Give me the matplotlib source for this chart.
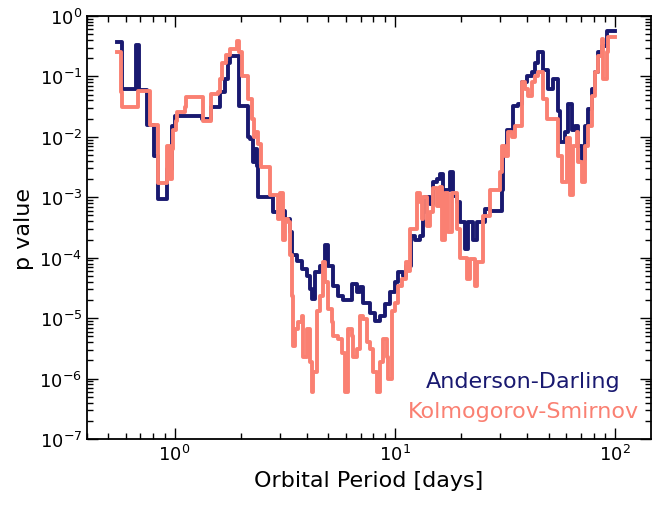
import matplotlib
matplotlib.use("Agg")
import matplotlib.pyplot as plt
from matplotlib.ticker import LogLocator, NullFormatter

# Anderson-Darling p values (step starts)
ad_period = [0.55, 0.58, 0.67, 0.69, 0.75, 0.81, 0.84, 0.92, 0.97, 1.0,
             1.33, 1.47, 1.60, 1.69, 1.74, 1.78, 1.97, 2.15, 2.21, 2.26,
             2.31, 2.36, 2.40, 2.79, 3.06, 3.16, 3.33, 3.40, 3.59, 3.78,
             3.98, 4.11, 4.20, 4.33, 4.56, 4.81, 4.96, 5.23, 5.51, 5.80,
             6.38, 6.72, 6.93, 7.16, 7.70, 8.11, 8.55, 9.01, 9.49, 10.0,
             10.3, 10.9, 11.3, 11.9, 12.3, 13.0, 13.4, 13.7, 14.4, 14.9,
             15.5, 16.0, 16.5, 17.8, 18.4, 19.1, 19.7, 20.8, 21.5, 22.6,
             23.6, 25.7, 27.0, 30.6, 31.0, 32.3, 34.4, 36.2, 37.8, 39.8,
             42.0, 43.3, 44.7, 47.1, 49.6, 52.3, 55.1, 56.2, 59.3, 61.1,
             63.8, 65.8, 67.9, 70.8, 73.1, 75.4, 78.6, 81.1, 83.7, 87.3,
             92.0, 100.0]
ad_p = [0.37, 0.062, 0.33, 0.060, 0.016, 0.0048, 0.00093, 0.0029, 0.015, 0.022,
        0.020, 0.031, 0.055, 0.091, 0.17, 0.22, 0.032, 0.0099, 0.0092, 0.0038,
        0.0063, 0.0033, 0.0010, 0.00057, 0.00059, 0.00044, 0.00027, 0.00011, 8.8e-5, 6.5e-5,
        5.0e-5, 3.0e-5, 2.1e-5, 5.8e-5, 7.3e-5, 1.6e-4, 7.3e-5, 3.4e-5, 2.3e-5, 2.0e-5,
        3.7e-5, 2.7e-5, 3.3e-5, 1.8e-5, 1.2e-5, 9.0e-6, 1.1e-5, 1.7e-5, 2.7e-5, 3.9e-5,
        5.8e-5, 5.0e-5, 7.3e-5, 2.3e-4, 2.0e-4, 2.3e-4, 5.7e-4, 1.0e-3, 7.7e-4, 1.8e-3,
        2.0e-3, 2.4e-3, 1.3e-3, 2.6e-3, 1.05e-3, 8.3e-4, 3.9e-4, 1.4e-4, 3.9e-4, 2.0e-4,
        3.9e-4, 6.4e-4, 6.0e-4, 1.3e-3, 6.3e-3, 0.013, 0.032, 0.035, 0.081, 0.10,
        0.12, 0.17, 0.25, 0.13, 0.062, 0.091, 0.027, 0.0082, 0.012, 0.035,
        0.013, 0.015, 0.0070, 0.0043, 0.015, 0.029, 0.062, 0.12, 0.25, 0.32,
        0.56, 0.56]

# Kolmogorov-Smirnov p values (step starts)
ks_period = [0.55, 0.57, 0.58, 0.68, 0.77, 0.84, 0.92, 0.95, 0.97, 0.98,
             1.02, 1.03, 1.11, 1.13, 1.34, 1.47, 1.57, 1.60, 1.65, 1.72,
             1.78, 1.93, 1.97, 2.02, 2.15, 2.24, 2.29, 2.33, 2.40, 2.48,
             2.70, 2.94, 3.0, 3.10, 3.16, 3.26, 3.33, 3.40, 3.44, 3.51,
             3.62, 3.78, 3.82, 3.98, 4.11, 4.20, 4.24, 4.42, 4.56, 4.71,
             4.81, 4.96, 5.17, 5.23, 5.51, 5.74, 5.93, 6.11, 6.38, 6.44,
             6.72, 6.93, 7.16, 7.46, 7.70, 7.94, 8.28, 8.55, 8.82, 9.20,
             9.29, 9.69, 10.0, 10.3, 10.8, 11.3, 11.5, 11.7, 12.6, 13.0,
             13.3, 13.4, 14.0, 14.4, 14.9, 15.5, 16.0, 16.4, 16.9, 17.4,
             18.2, 19.1, 19.7, 21.2, 21.9, 23.1, 23.6, 25.1, 27.0, 30.0,
             30.6, 31.6, 32.6, 34.0, 35.1, 37.8, 39.0, 40.2, 42.0, 43.3,
             44.7, 47.1, 49.1, 55.1, 57.4, 60.5, 62.4, 64.4, 67.2, 67.9,
             70.8, 73.1, 75.4, 78.6, 81.1, 83.7, 87.3, 88.2, 92.0, 92.9,
             100.0]
ks_p = [0.25, 0.055, 0.031, 0.057, 0.016, 0.0017, 0.0070, 0.0020, 0.0063, 0.013,
        0.018, 0.026, 0.031, 0.046, 0.018, 0.051, 0.055, 0.091, 0.17, 0.23,
        0.28, 0.39, 0.25, 0.10, 0.042, 0.020, 0.0099, 0.012, 0.0076, 0.0032,
        0.0011, 0.00044, 0.0012, 0.00020, 0.00044, 0.00039, 0.00011, 2.3e-5, 3.4e-6, 6.6e-6,
        8.6e-6, 1.1e-5, 2.3e-6, 6.6e-6, 1.9e-6, 6.0e-7, 1.3e-6, 1.3e-5, 2.3e-5, 8.5e-5,
        3.9e-5, 1.4e-5, 8.6e-6, 5.0e-6, 4.5e-6, 2.7e-6, 6.0e-7, 6.6e-6, 5.0e-6, 2.3e-6,
        3.1e-6, 1.1e-5, 9.6e-6, 4.0e-6, 3.1e-6, 1.3e-6, 6.0e-7, 1.9e-6, 4.5e-6, 2.3e-6,
        9.8e-7, 1.3e-5, 1.8e-5, 3.4e-5, 4.4e-5, 8.5e-5, 6.0e-5, 3.0e-4, 1.2e-3, 8.3e-4,
        4.4e-4, 1.0e-3, 3.3e-4, 5.7e-4, 1.4e-3, 7.1e-4, 1.5e-3, 2.0e-4, 1.2e-3, 2.7e-4,
        1.2e-3, 3.0e-4, 1.0e-4, 4.4e-5, 9.5e-5, 3.4e-5, 8.5e-5, 4.9e-4, 1.3e-3, 2.6e-3,
        7.0e-3, 4.8e-3, 0.012, 0.010, 0.015, 0.081, 0.062, 0.047, 0.081, 0.10,
        0.12, 0.042, 0.020, 0.0048, 0.0018, 0.0095, 0.0011, 0.0070, 0.012, 0.0038,
        0.0018, 0.0070, 0.015, 0.047, 0.12, 0.22, 0.42, 0.091, 0.25, 0.45,
        0.45]

plt.rcParams['font.family'] = ['DejaVu Sans']

fig = plt.figure(figsize=(6.52, 5.06), dpi=100)
ax = fig.add_axes([0.1334, 0.1304, 0.8651, 0.836])

ad_color = '#191970'
ks_color = '#fa8072'
ax.plot(ad_period, ad_p, drawstyle='steps-post', color=ad_color, lw=2.8)
ax.plot(ks_period, ks_p, drawstyle='steps-post', color=ks_color, lw=2.8)

ax.set_xscale('log')
ax.set_yscale('log')
ax.set_xlim(0.4, 146)
ax.set_ylim(1e-7, 1)
ax.yaxis.set_major_locator(LogLocator(base=10, numticks=20))
ax.yaxis.set_minor_locator(LogLocator(base=10, subs=range(2, 10), numticks=20))
ax.yaxis.set_minor_formatter(NullFormatter())

ax.tick_params(which='both', direction='in', top=True, right=True,
               labelsize=13, width=1)
ax.tick_params(which='major', length=8)
ax.tick_params(which='minor', length=4)
for s in ax.spines.values():
    s.set_linewidth(1.3)

ax.set_xlabel('Orbital Period [days]', fontsize=16)
ax.set_ylabel('p value', fontsize=16)

ax.text(0.773, 0.123, 'Anderson-Darling', color=ad_color, fontsize=16,
        ha='center', va='baseline', transform=ax.transAxes)
ax.text(0.773, 0.052, 'Kolmogorov-Smirnov', color=ks_color, fontsize=16,
        ha='center', va='baseline', transform=ax.transAxes)

fig.savefig('out.png', dpi=100)
